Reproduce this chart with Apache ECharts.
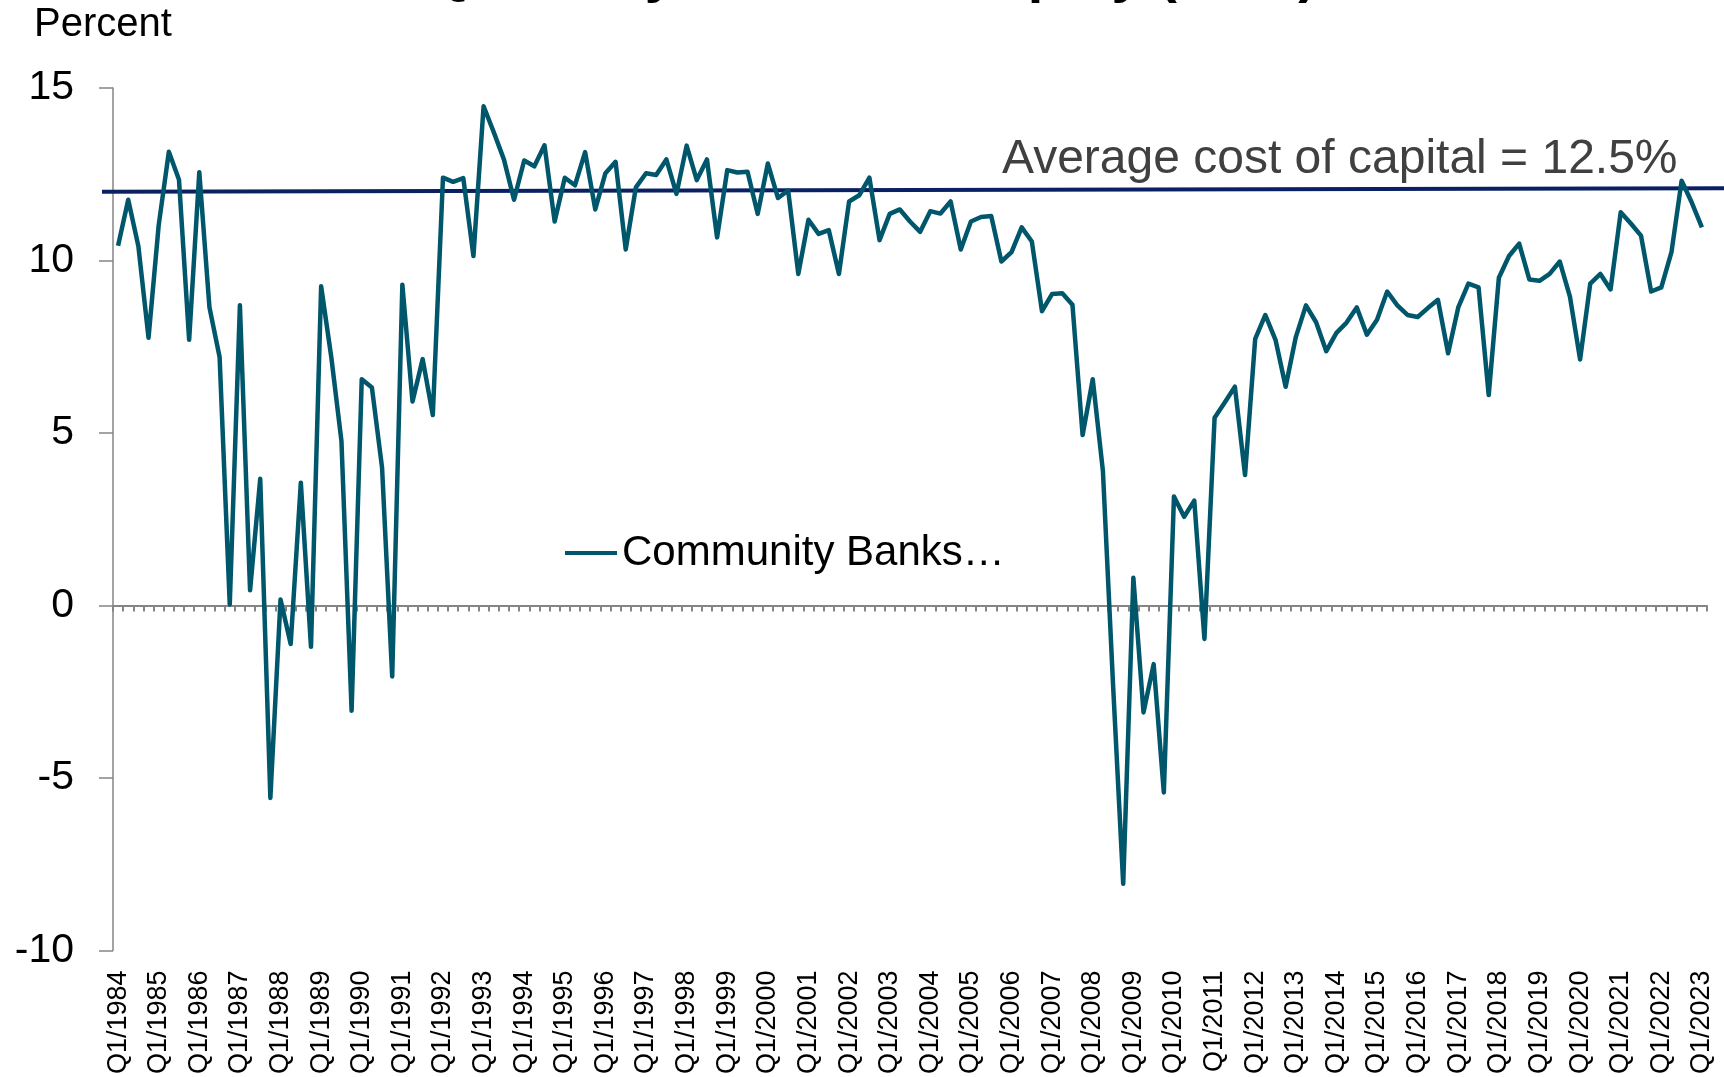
<!DOCTYPE html>
<html>
<head>
<meta charset="utf-8">
<title>Quarterly Return on Equity (ROE)</title>
<script src="https://cdn.jsdelivr.net/npm/echarts@6/dist/echarts.min.js"></script>
<style>
  html, body { margin: 0; padding: 0; background: #ffffff; }
  #chart { width: 1724px; height: 1077px; }
</style>
</head>
<body>
<div id="chart"></div>
<script>
// Quarter labels, Q1/1984 through Q1/2023
const firstYear = 1984;
const lastYear = 2023;
const quarters = [];
for (let y = firstYear; y <= lastYear; y++) {
  for (let q = 1; q <= 4; q++) {
    if (y === lastYear && q > 1) break;
    quarters.push('Q' + q + '/' + y);
  }
}

// Community bank return on equity, percent, one value per quarter
const communityBankROE = [
  10.43, 11.76, 10.41, 7.76,    // 1984
  11.02, 13.15, 12.34, 7.70,    // 1985
  12.56, 8.64, 7.20, 0.03,      // 1986
  8.70, 0.44, 3.67, -5.58,      // 1987
  0.17, -1.12, 3.56, -1.20,     // 1988
  9.25, 7.20, 4.77, -3.05,      // 1989
  6.56, 6.32, 4.00, -2.06,      // 1990
  9.30, 5.91, 7.14, 5.52,       // 1991
  12.40, 12.28, 12.39, 10.13,   // 1992
  14.47, 13.72, 12.93, 11.76,   // 1993
  12.90, 12.73, 13.34, 11.13,   // 1994
  12.40, 12.18, 13.14, 11.48,   // 1995
  12.53, 12.86, 10.32, 12.12,   // 1996
  12.53, 12.48, 12.93, 11.93,   // 1997
  13.33, 12.33, 12.93, 10.67,   // 1998
  12.62, 12.55, 12.57, 11.35,   // 1999
  12.81, 11.81, 12.03, 9.61,    // 2000
  11.18, 10.77, 10.88, 9.61,    // 2001
  11.71, 11.89, 12.40, 10.59,   // 2002
  11.35, 11.48, 11.13, 10.83,   // 2003
  11.43, 11.36, 11.71, 10.32,   // 2004
  11.13, 11.26, 11.29, 9.97,    // 2005
  10.24, 10.96, 10.55, 8.53,    // 2006
  9.03, 9.05, 8.72, 4.94,       // 2007
  6.56, 3.90, -2.30, -8.07,     // 2008
  0.80, -3.10, -1.70, -5.42,    // 2009
  3.16, 2.57, 3.04, -0.97,      // 2010
  5.44, 5.88, 6.34, 3.78,       // 2011
  7.73, 8.42, 7.70, 6.34,       // 2012
  7.78, 8.70, 8.21, 7.37,       // 2013
  7.90, 8.20, 8.64, 7.85,       // 2014
  8.28, 9.10, 8.70, 8.42,       // 2015
  8.36, 8.62, 8.86, 7.31,       // 2016
  8.64, 9.33, 9.22, 6.10,       // 2017
  9.50, 10.13, 10.49, 9.45,     // 2018
  9.41, 9.61, 9.97, 8.95,       // 2019
  7.13, 9.33, 9.61, 9.16,       // 2020
  11.40, 11.07, 10.72, 9.10,    // 2021
  9.22, 10.24, 12.31, 11.68,    // 2022
  10.96                         // 2023
];

// Cost-of-capital reference line: level at its left and right ends
const costOfCapitalLevels = [12.0, 12.1];
const costOfCapitalText = 'Average cost of capital = 12.5%';

// Value axis range and step
const yMin = -10;
const yMax = 15;
const yStep = 5;

const seriesName = 'Community Banks…';
const titleText = 'Quarterly Return on Equity (ROE)';

const FONT = '"Liberation Sans", Arial, Helvetica, sans-serif';
const TEAL = '#00566B';
const NAVY = '#0B2063';
const AXIS_GREY = '#858585';

const chart = echarts.init(document.getElementById('chart'), null, { renderer: 'canvas' });

const option = {
  backgroundColor: '#ffffff',
  animation: false,
  textStyle: { fontFamily: FONT },
  grid: [
    { left: 113, right: 17, top: 88, bottom: 124 },
    { left: 102, right: 0, top: 88, bottom: 124 }
  ],
  legend: {
    data: [seriesName],
    left: 565,
    top: 532,
    padding: 0,
    icon: 'rect',
    itemWidth: 52,
    itemHeight: 4,
    textStyle: { fontSize: 42, color: '#000000', fontFamily: FONT }
  },
  xAxis: [
    {
      // quarter labels along the bottom
      type: 'category',
      gridIndex: 0,
      data: quarters,
      position: 'bottom',
      boundaryGap: true,
      axisLine: { show: false, onZero: false },
      axisTick: { show: false },
      splitLine: { show: false },
      axisLabel: {
        interval: 3,
        rotate: 90,
        margin: 20,
        fontSize: 27,
        color: '#000000',
        fontFamily: FONT
      }
    },
    {
      // zero line with a tick per quarter
      type: 'category',
      gridIndex: 0,
      data: quarters,
      position: 'bottom',
      boundaryGap: true,
      axisLine: { show: true, onZero: true, lineStyle: { color: AXIS_GREY, width: 2 } },
      axisTick: { show: true, interval: 0, length: 6, lineStyle: { color: AXIS_GREY, width: 2 } },
      axisLabel: { show: false },
      splitLine: { show: false }
    },
    {
      type: 'value',
      gridIndex: 1,
      min: 0,
      max: 1,
      show: false
    }
  ],
  yAxis: [
    {
      type: 'value',
      gridIndex: 0,
      min: yMin,
      max: yMax,
      interval: yStep,
      axisLine: { show: true, lineStyle: { color: AXIS_GREY, width: 1.5 } },
      axisTick: { show: true, length: 14, lineStyle: { color: AXIS_GREY, width: 1.5 } },
      splitLine: { show: false },
      axisLabel: { margin: 39, fontSize: 41, color: '#000000', fontFamily: FONT }
    },
    {
      type: 'value',
      gridIndex: 1,
      min: yMin,
      max: yMax,
      show: false
    }
  ],
  series: [
    {
      name: 'Average cost of capital',
      type: 'line',
      xAxisIndex: 2,
      yAxisIndex: 1,
      data: [[0, costOfCapitalLevels[0]], [1, costOfCapitalLevels[1]]],
      symbol: 'none',
      silent: true,
      lineStyle: { color: NAVY, width: 4 }
    },
    {
      name: seriesName,
      type: 'line',
      xAxisIndex: 0,
      yAxisIndex: 0,
      data: communityBankROE,
      symbol: 'none',
      showSymbol: false,
      color: TEAL,
      itemStyle: { color: TEAL },
      lineStyle: { color: TEAL, width: 4.5, join: 'round' }
    }
  ],
  graphic: [
    {
      type: 'text',
      left: 34,
      top: 5,
      style: { text: 'Percent', font: '40px ' + FONT, fill: '#000000' }
    },
    {
      type: 'text',
      left: 427,
      top: -52,
      style: { text: titleText, font: 'bold 56px ' + FONT, fill: '#000000' }
    },
    {
      type: 'text',
      left: 1002,
      top: 136,
      style: { text: costOfCapitalText, font: '48px ' + FONT, fill: '#404040' }
    }
  ]
};

chart.setOption(option);
</script>
</body>
</html>
